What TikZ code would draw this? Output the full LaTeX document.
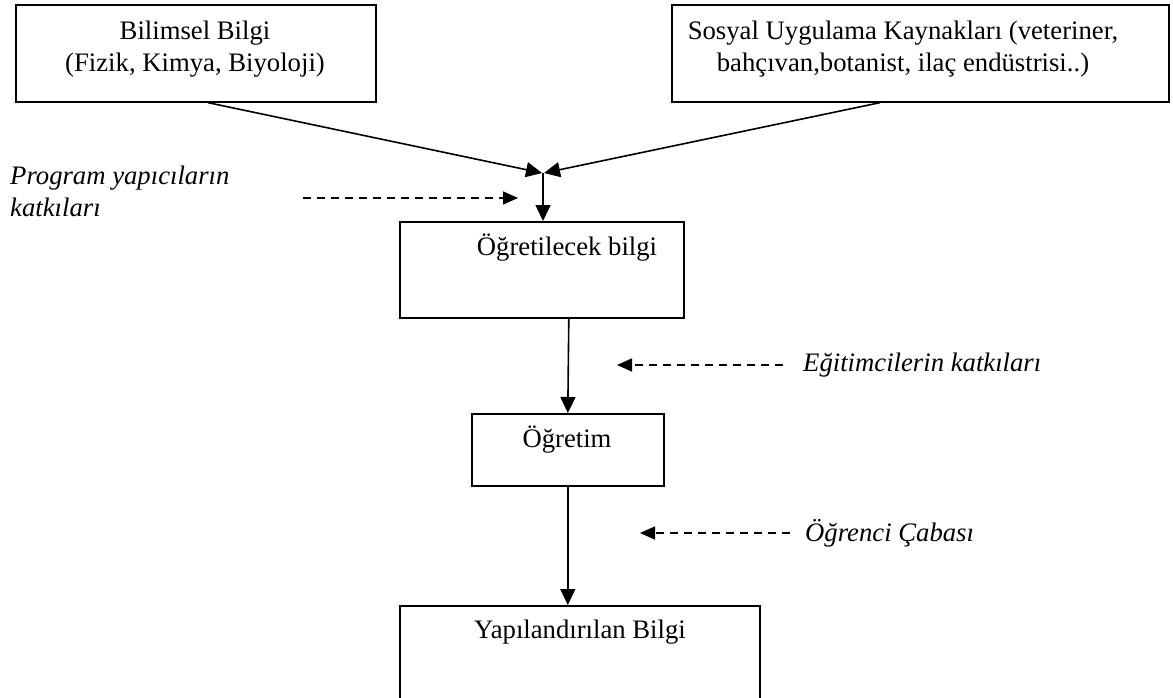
\documentclass[tikz,border=0pt]{standalone}
\usepackage{fontspec}
\setmainfont{Liberation Serif}
\usetikzlibrary{arrows.meta}
\begin{document}
\begin{tikzpicture}[x=1pt,y=-1pt,
  box/.style={draw, line width=1.6pt, inner sep=0pt, anchor=north west},
  txt/.style={inner sep=0pt, font=\fontsize{26.7}{32}\selectfont},
  itxt/.style={txt, font=\fontsize{26.7}{32}\selectfont\itshape},
  flow/.style={line width=1.6pt, -{Triangle[length=16pt,width=15pt]}},
  contrib/.style={line width=1.6pt, dash pattern=on 8pt off 6pt, -{Triangle[length=15pt,width=13pt]}}]
\clip (0,0) rectangle (1173,698);
% boxes
\node[box, minimum width=360pt, minimum height=97pt] (b1) at (15,4) {};
\node[box, minimum width=497pt, minimum height=97pt] (b2) at (671,4) {};
\node[box, minimum width=284pt, minimum height=96pt] (b3) at (399,221) {};
\node[box, minimum width=192pt, minimum height=72pt] (b4) at (471,413) {};
\node[box, minimum width=360pt, minimum height=120pt] (b5) at (399,605) {};
% box texts
\node[txt, align=center] (t1) at (195,49) {Bilimsel Bilgi\\(Fizik, Kimya, Biyoloji)};
\node[txt, align=center] (t2) at (903,49) {Sosyal Uygulama Kaynakları (veteriner,\\bahçıvan,botanist, ilaç endüstrisi..)};
\node[txt] (t3) at (567,248) {Öğretilecek bilgi};
\node[txt] (t4) at (567,440) {Öğretim};
\node[txt] (t5) at (580,632) {Yapılandırılan Bilgi};
% side labels
\node[itxt, align=left, anchor=west] (l1) at (10,191) {Program yapıcıların\\katkıları};
\node[itxt, anchor=west] (l2) at (803,365) {Eğitimcilerin katkıları};
\node[itxt, anchor=west] (l3) at (805,533) {Öğrenci Çabası};
% main flow
\coordinate (m) at (543,173);
\draw[flow] ([xshift=12pt]b1.south) -- ([xshift=-1pt]m);
\draw[flow] ([xshift=-40pt]b2.south) -- ([xshift=1pt]m);
\draw[flow] (m) -- (m |- b3.north);
\draw[flow] ([xshift=27pt]b3.south) -- (b4.north);
\draw[flow] (b4.south) -- (b4.south |- b5.north);
% contributions
\coordinate (p1s) at (303,198);
\coordinate (p1e) at (518,198);
\draw[contrib] (p1s) -- (p1e);
\coordinate (p2e) at (617,365);
\draw[contrib] ([xshift=-20pt]l2.west) -- (p2e);
\coordinate (p3e) at (640,533);
\draw[contrib] ([xshift=-15pt]l3.west) -- (p3e);
\end{tikzpicture}
\end{document}
